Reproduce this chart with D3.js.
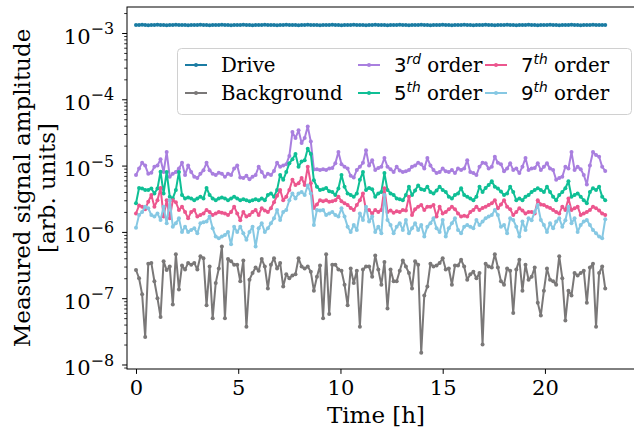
<!DOCTYPE html>
<html>
<head>
<meta charset="utf-8">
<script src="https://cdn.jsdelivr.net/npm/d3@7"></script>
<style>
  body { margin: 0; background: #fff; }
  text { white-space: pre; }
</style>
</head>
<body>
<div id="chart"></div>
<script>
// sampling interval of the measurement [h]
const sampleStep = 0.15;

// values (drive in units of 1e-3, orders in 1e-6, background in 1e-7)
const drive = [
  1.32, 1.32, 1.33, 1.32, 1.31, 1.32, 1.32, 1.33, 1.32, 1.32,
  1.31, 1.32, 1.32, 1.33, 1.32, 1.32, 1.32, 1.31, 1.32, 1.32,
  1.32, 1.33, 1.32, 1.32, 1.31, 1.32, 1.32, 1.32, 1.33, 1.32,
  1.32, 1.31, 1.32, 1.32, 1.32, 1.33, 1.32, 1.32, 1.31, 1.32,
  1.32, 1.32, 1.33, 1.32, 1.32, 1.32, 1.31, 1.32, 1.32, 1.33,
  1.32, 1.32, 1.32, 1.31, 1.32, 1.32, 1.33, 1.32, 1.32, 1.32,
  1.31, 1.32, 1.32, 1.32, 1.33, 1.32, 1.32, 1.31, 1.32, 1.32,
  1.32, 1.33, 1.32, 1.32, 1.32, 1.31, 1.32, 1.32, 1.33, 1.32,
  1.32, 1.32, 1.31, 1.32, 1.32, 1.32, 1.33, 1.32, 1.32, 1.31,
  1.32, 1.32, 1.32, 1.33, 1.32, 1.32, 1.31, 1.32, 1.32, 1.32,
  1.33, 1.32, 1.32, 1.31, 1.32, 1.32, 1.32, 1.33, 1.32, 1.32,
  1.31, 1.32, 1.32, 1.32, 1.33, 1.32, 1.32, 1.31, 1.32, 1.32,
  1.32, 1.33, 1.32, 1.32, 1.31, 1.32, 1.32, 1.32, 1.33, 1.32,
  1.32, 1.31, 1.32, 1.32, 1.32, 1.33, 1.32, 1.32, 1.31, 1.32,
  1.32, 1.32, 1.33, 1.32, 1.32, 1.31, 1.32, 1.32, 1.32, 1.33,
  1.32, 1.32, 1.32, 1.32
];

const background = [
  2.66, 2.0, 1.15, 0.26, 3.3, 3.4, 1.8, 1.0, 0.52, 3.6,
  2.66, 3.0, 0.8, 4.6, 1.35, 3.1, 2.7, 3.4, 3.2, 3.4,
  2.7, 4.3, 4.0, 0.78, 3.0, 0.5, 1.7, 2.8, 6.0, 0.5,
  3.9, 3.6, 3.2, 3.2, 1.8, 3.7, 0.37, 1.9, 2.4, 2.9,
  2.6, 3.9, 3.0, 1.4, 3.2, 4.0, 2.8, 3.4, 1.5, 2.3,
  2.0, 2.2, 2.3, 4.0, 3.0, 2.8, 3.0, 2.5, 1.3, 2.1,
  3.1, 0.5, 4.6, 0.58, 3.2, 3.2, 2.7, 2.6, 1.6, 0.78,
  2.8, 1.7, 2.6, 0.37, 2.7, 3.0, 3.0, 2.1, 4.4, 2.7,
  1.6, 3.5, 0.7, 2.7, 1.8, 1.8, 2.6, 3.7, 3.0, 2.4,
  1.4, 3.6, 3.2, 0.15, 1.1, 1.5, 3.3, 3.0, 3.1, 3.4,
  4.0, 2.7, 2.8, 1.6, 3.1, 3.1, 3.8, 3.0, 1.9, 2.3,
  2.5, 2.0, 2.4, 0.2, 3.3, 3.0, 2.9, 4.6, 2.9, 1.8,
  1.6, 2.8, 2.6, 0.6, 2.7, 3.8, 1.3, 3.2, 1.9, 2.1,
  2.9, 0.85, 0.55, 1.3, 2.8, 1.9, 1.8, 1.6, 4.3, 2.0,
  0.46, 1.3, 1.1, 2.4, 2.2, 2.4, 2.6, 0.85, 2.9, 3.3,
  0.37, 2.4, 3.0, 1.4
];

const order3 = [
  7.2, 9, 11, 10, 7.5, 7.8, 9.6, 10, 12.5, 8,
  16, 6.8, 7.5, 8, 9, 11, 7.2, 10, 8, 6.8,
  6.5, 7.5, 8.5, 11, 8.5, 7.5, 7.2, 7.8, 7.5, 6.8,
  7.5, 7.2, 9, 10, 6.6, 6.5, 7, 6.2, 6.8, 7.2,
  9.6, 8, 6.8, 7.5, 7.2, 8.3, 11, 9.6, 10, 10.5,
  14, 32, 26, 34, 22, 26, 39, 23, 8.7, 8.8,
  8.6, 8.8, 8.6, 9, 9.2, 10.8, 16, 10.5, 9.6, 9,
  7, 6.6, 8.6, 9.6, 11, 17, 10, 12, 8.6, 9.2,
  9.6, 13, 9.6, 8.8, 8, 9.6, 8.4, 8, 8.2, 8.6,
  9.6, 10, 11, 10.5, 9, 13, 10, 8.6, 7.7, 8,
  9, 8.2, 8, 8.6, 7.7, 9, 8.6, 9, 12, 8,
  7.7, 7.2, 9.6, 11, 10.8, 9, 9.6, 13.6, 11, 10.5,
  8.2, 9, 10.8, 8.6, 9, 7.7, 9.6, 13, 8.6, 9,
  9.2, 10.8, 8.6, 9.6, 10.8, 9, 8.6, 6.1, 6.5, 6.8,
  9.6, 9, 16, 8.6, 9.6, 8.8, 7.2, 5.2, 10, 16,
  14.5, 13.6, 9.6, 8.3
];

const order5 = [
  2.7, 4.6, 4.5, 4.3, 4.3, 4.5, 3.8, 4.5, 8.1, 3.8,
  8.0, 3.4, 3.2, 4.3, 8.0, 3.6, 3.2, 3.3, 3.2, 3.0,
  3.2, 3.4, 3.2, 4.6, 3.6, 3.2, 3.0, 3.2, 3.3, 3.2,
  3.0, 3.2, 3.4, 3.2, 3.0, 3.1, 3.0, 2.9, 3.0, 3.1,
  3.0, 3.2, 3.0, 3.6, 3.8, 3.4, 4.3, 7.2, 6.1, 8.0,
  10.8, 12.5, 15, 9.6, 11.5, 12, 18, 15, 6.0, 4.8,
  4.3, 4.4, 4.6, 4.1, 4.0, 3.6, 4.5, 7.2, 4.8, 3.8,
  3.6, 3.4, 3.8, 6.1, 8.0, 4.3, 4.6, 4.4, 3.4, 3.8,
  4.0, 7.7, 4.3, 3.8, 3.6, 3.2, 3.1, 3.0, 3.6, 4.8,
  3.6, 4.2, 5.0, 4.4, 4.3, 4.8, 4.0, 3.8, 4.2, 4.8,
  4.3, 4.0, 3.4, 3.2, 3.6, 3.8, 4.55, 3.6, 3.4, 3.2,
  3.0, 3.4, 4.8, 4.0, 4.6, 5.1, 5.8, 4.8, 4.5, 4.05,
  3.6, 3.8, 4.8, 4.0, 3.0, 3.2, 3.0, 3.4, 3.6, 4.0,
  4.3, 4.55, 4.3, 4.0, 4.8, 4.0, 3.4, 3.0, 3.6, 4.0,
  4.55, 5.8, 3.4, 3.6, 3.8, 3.4, 3.0, 2.7, 4.0, 4.55,
  4.3, 4.8, 3.4, 3.0
];

const order7 = [
  1.9, 2.5, 2.4, 2.2, 2.85, 3.6, 2.4, 3.0, 4.6, 1.7,
  3.0, 1.6, 3.0, 2.8, 2.14, 2.4, 2.0, 1.6, 2.0, 2.14,
  1.7, 1.8, 1.9, 2.14, 2.0, 1.8, 1.9, 2.0, 1.95, 1.9,
  1.8, 2.0, 2.4, 1.9, 1.5, 2.0, 1.7, 1.8, 2.0, 2.14,
  1.8, 2.27, 2.1, 2.0, 2.27, 2.8, 3.5, 4.3, 3.0, 3.4,
  4.3, 6.1, 5.1, 5.4, 6.5, 5.1, 9.6, 5.4, 2.3, 2.6,
  3.0, 2.9, 3.0, 2.85, 2.9, 3.0, 3.4, 2.9, 2.7, 2.55,
  2.3, 2.14, 2.55, 3.0, 3.8, 2.14, 2.14, 1.9, 2.14, 2.0,
  2.14, 4.55, 2.0, 2.1, 1.95, 2.05, 2.0, 2.14, 2.1, 3.4,
  1.8, 2.2, 2.4, 2.55, 2.14, 2.4, 2.4, 2.55, 1.7, 2.4,
  1.9, 2.0, 2.2, 2.4, 2.2, 1.9, 1.7, 1.75, 1.7, 2.0,
  2.14, 2.4, 2.14, 2.3, 2.4, 2.55, 2.7, 3.0, 2.27, 2.6,
  3.0, 2.4, 2.2, 1.8, 2.0, 2.27, 2.1, 1.9, 2.0, 2.0,
  1.9, 3.0, 2.6, 2.55, 2.4, 2.3, 2.14, 2.0, 1.9, 2.4,
  2.14, 3.2, 2.14, 2.27, 2.4, 1.8, 1.9, 2.0, 2.14, 2.4,
  2.27, 2.1, 1.9, 1.8
];

const order9 = [
  1.15, 1.8, 2.0, 2.4, 2.27, 1.8, 1.7, 1.9, 1.51, 2.4,
  1.35, 3.0, 1.2, 1.35, 1.6, 1.0, 1.2, 1.0, 1.07, 1.13,
  0.95, 1.35, 1.4, 1.43, 1.7, 1.13, 0.85, 0.8, 0.85, 0.9,
  1.0, 0.65, 1.2, 1.0, 1.2, 0.95, 0.76, 1.0, 1.2, 0.6,
  1.13, 1.35, 1.0, 1.13, 1.35, 1.6, 2.14, 1.51, 2.0, 2.14,
  3.0, 3.8, 3.2, 3.8, 4.0, 3.6, 5.0, 3.8, 1.27, 2.14,
  2.1, 2.14, 1.8, 1.9, 2.0, 1.8, 1.7, 2.27, 1.7, 1.2,
  1.0, 1.27, 1.07, 1.9, 1.51, 2.4, 1.43, 1.7, 1.0, 1.2,
  0.95, 3.6, 1.51, 1.27, 0.95, 1.2, 1.35, 1.07, 1.51, 0.95,
  1.13, 1.35, 1.07, 1.27, 0.85, 1.2, 1.35, 1.6, 1.13, 1.0,
  1.51, 0.85, 1.13, 1.35, 1.6, 1.07, 0.95, 1.2, 1.27, 1.2,
  1.13, 1.51, 1.27, 1.43, 1.6, 1.7, 1.8, 2.14, 1.8, 1.2,
  1.27, 0.95, 1.6, 1.51, 1.2, 0.85, 1.43, 1.07, 1.6, 1.5,
  2.0, 2.55, 1.51, 1.27, 1.0, 1.35, 1.13, 1.43, 1.6, 1.2,
  1.5, 2.4, 1.35, 1.6, 1.0, 1.27, 1.43, 1.51, 1.27, 1.07,
  0.95, 0.85, 0.8, 1.55
];

const xTicks = [0, 5, 10, 15, 20];
const yExponents = [-8, -7, -6, -5, -4, -3];

const series = [
  {values: drive, unit: 1e-3, color: "#1b7ca3", label: ["Drive"]},
  {values: background, unit: 1e-7, color: "#7a7878", label: ["Background"]},
  {values: order3, unit: 1e-6, color: "#a97fdf", label: ["3", "rd", " order"]},
  {values: order5, unit: 1e-6, color: "#0fbf95", label: ["5", "th", " order"]},
  {values: order7, unit: 1e-6, color: "#ec568e", label: ["7", "th", " order"]},
  {values: order9, unit: 1e-6, color: "#86c8e3", label: ["9", "th", " order"]}
];

const width = 634, height = 429;
const plot = {left: 127, right: 640, top: 7, bottom: 369};
const serif = "DejaVu Serif";
const tickFont = 21;
const labelFont = 23;
const legendFont = 19.8;

const svg = d3.select("#chart").append("svg")
    .attr("width", width)
    .attr("height", height)
    .style("font-family", serif);

const x = d3.scaleLinear().domain([-0.44, 24.65]).range([plot.left, plot.right]);
const y = d3.scaleLog()
    .domain([Math.pow(10, -8.068), Math.pow(10, -2.608)])
    .range([plot.bottom, plot.top]);

// x axis
const gx = svg.append("g")
    .attr("transform", `translate(0,${plot.bottom})`)
    .call(d3.axisBottom(x).tickValues(xTicks).tickSize(4.9).tickPadding(6).tickFormat(d3.format("d")));
gx.select(".domain").remove();
gx.selectAll("text").attr("font-size", tickFont).attr("font-family", serif).attr("fill", "#000");
gx.selectAll("line").attr("stroke", "#000").attr("stroke-width", 1);

// y axis: minor ticks
const minorVals = [];
yExponents.concat([-9]).forEach(e => {
    for (let m = 2; m <= 9; m++) {
        const v = m * Math.pow(10, e);
        if (v > y.domain()[0] && v < y.domain()[1]) minorVals.push(v);
    }
});
const gyMinor = svg.append("g")
    .attr("transform", `translate(${plot.left},0)`)
    .call(d3.axisLeft(y).tickValues(minorVals).tickSize(2.8).tickFormat(() => ""));
gyMinor.select(".domain").remove();
gyMinor.selectAll("line").attr("stroke", "#000").attr("stroke-width", 0.8);

// y axis: major ticks with 10^n labels
const gy = svg.append("g")
    .attr("transform", `translate(${plot.left},0)`)
    .call(d3.axisLeft(y).tickValues(yExponents.map(e => Math.pow(10, e)))
        .tickSize(4.9).tickPadding(8).tickFormat(() => ""));
gy.select(".domain").remove();
gy.selectAll("line").attr("stroke", "#000").attr("stroke-width", 1);
gy.selectAll(".tick text").each(function(d) {
    const t = d3.select(this)
        .attr("font-size", tickFont)
        .attr("font-family", serif)
        .attr("fill", "#000")
        .attr("dy", "0.48em");
    t.append("tspan").text("10");
    t.append("tspan")
        .attr("font-size", "0.76em")
        .attr("dy", "-0.6em")
        .text("\u2212" + Math.round(-Math.log10(d)));
});

// frame
svg.append("rect")
    .attr("x", plot.left)
    .attr("y", plot.top)
    .attr("width", plot.right - plot.left)
    .attr("height", plot.bottom - plot.top)
    .attr("fill", "none")
    .attr("stroke", "#000")
    .attr("stroke-width", 1);

// series
const line = d3.line()
    .x(d => x(d.t))
    .y(d => y(d.v));

series.forEach(s => {
    const pts = s.values.map((v, i) => ({t: i * sampleStep, v: v * s.unit}));
    const g = svg.append("g");
    g.append("path")
        .datum(pts)
        .attr("d", line)
        .attr("fill", "none")
        .attr("stroke", s.color)
        .attr("stroke-width", 2)
        .attr("stroke-linejoin", "round");
    g.selectAll("circle")
        .data(pts)
        .join("circle")
        .attr("cx", d => x(d.t))
        .attr("cy", d => y(d.v))
        .attr("r", 2)
        .attr("fill", s.color);
});

// legend
const legend = svg.append("g");
legend.append("rect")
    .attr("x", 177.5).attr("y", 48.5)
    .attr("width", 454).attr("height", 66)
    .attr("rx", 4)
    .attr("fill", "#fff").attr("fill-opacity", 0.8)
    .attr("stroke", "#d0d0d0");

const colX = [185, 358, 485];
const rowY = [65, 93];
series.forEach((s, i) => {
    const lx = colX[Math.floor(i / 2)];
    const ly = rowY[i % 2];
    legend.append("line")
        .attr("x1", lx).attr("x2", lx + 22)
        .attr("y1", ly).attr("y2", ly)
        .attr("stroke", s.color).attr("stroke-width", 2);
    legend.append("circle")
        .attr("cx", lx + 11).attr("cy", ly).attr("r", 2)
        .attr("fill", s.color);
    const t = legend.append("text")
        .attr("x", lx + 36)
        .attr("y", ly + 7)
        .attr("font-size", legendFont)
        .attr("fill", "#000");
    if (s.label.length === 1) {
        t.text(s.label[0]);
    } else {
        t.append("tspan").attr("font-family", "DejaVu Sans").text(s.label[0]);
        t.append("tspan").attr("font-family", "DejaVu Sans").attr("font-style", "italic")
            .attr("font-size", 13.8).attr("dy", -8).text(s.label[1]);
        t.append("tspan").attr("font-family", serif).attr("dy", 8).text(s.label[2]);
    }
});

// axis labels
svg.append("text")
    .attr("x", 376)
    .attr("y", 423)
    .attr("text-anchor", "middle")
    .attr("font-size", labelFont)
    .text("Time [h]");

const yLabel = svg.append("text")
    .attr("transform", `translate(0,${(plot.top + plot.bottom) / 2}) rotate(-90)`)
    .attr("text-anchor", "middle")
    .attr("font-size", labelFont);
yLabel.append("tspan").attr("x", 0).attr("y", 30).text("Measured signal amplitude");
yLabel.append("tspan").attr("x", 0).attr("y", 55).text("[arb. units]");
</script>
</body>
</html>
